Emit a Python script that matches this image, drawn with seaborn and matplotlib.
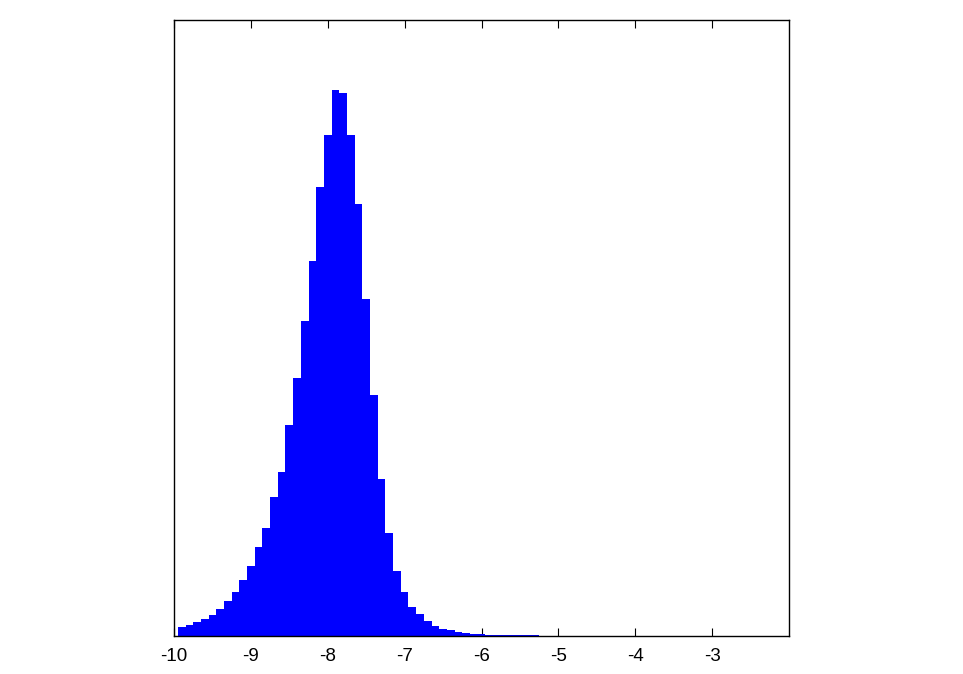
import numpy as np
import pandas as pd
import matplotlib
matplotlib.use("Agg")
import matplotlib.pyplot as plt
import seaborn as sns

# bin centres (width 0.1) and bar heights (arbitrary units)
centers = [round(-9.9 + 0.1 * i, 2) for i in range(53)]
heights = [8.7, 10.7, 14.0, 17.3, 20.7, 27.3, 35.3, 44.0, 55.7, 70.0,
           89.0, 108.3, 138.7, 164.0, 211.3, 257.7, 314.7, 375.3, 449.3, 501.3,
           545.7, 542.7, 501.3, 432.0, 336.7, 240.7, 157.3, 103.0, 64.7, 43.7,
           28.7, 22.0, 15.0, 9.7, 7.0, 5.7, 4.3, 3.3, 2.3, 1.6,
           1.3, 1.1, 0.9, 0.8, 0.7, 0.6, 0.5, 0.4, 0.35, 0.3,
           0.25, 0.2, 0.15]
xticks = [-10, -9, -8, -7, -6, -5, -4, -3]

df = pd.DataFrame({"x": centers, "h": heights})

sns.set_theme(style="white")
plt.rcParams["font.family"] = ["Liberation Sans", "DejaVu Sans"]

fig = plt.figure(figsize=(9.63, 6.74), dpi=100)
ax = fig.add_axes([0.1807, 0.0564, 0.6386, 0.914])

sns.histplot(data=df, x="x", weights="h", binwidth=0.1,
             binrange=(-9.95, -9.95 + 0.1 * len(centers)),
             color="#0000ff", alpha=1.0, linewidth=0, ax=ax)

ax.set_xlim(-10, -2)
ax.set_ylim(0, 616)
ax.set_xticks(xticks)
ax.set_xticklabels([str(t) for t in xticks], fontsize=13.5, color="black")
ax.set_yticks([])
ax.set_xlabel("")
ax.set_ylabel("")
ax.tick_params(axis="x", direction="in", length=5.5, width=0.8, color="black",
               top=True, bottom=True, pad=9)
for s in ax.spines.values():
    s.set_color("black")
    s.set_linewidth(1.0)

fig.savefig("out.png", dpi=100, facecolor="white")
